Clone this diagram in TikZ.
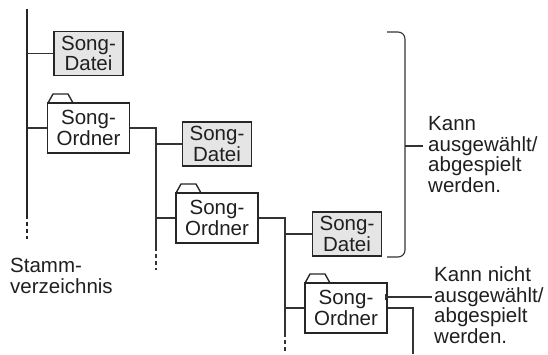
\documentclass[tikz,border=0pt]{standalone}
\usepackage{fontspec}
\setmainfont{Liberation Sans}
\begin{document}
\begin{tikzpicture}[x=1pt,y=-1pt,
  txt/.style={font=\fontsize{20.5}{20.5}\selectfont, text=black!88},
  filebox/.style={draw=black!85, line width=1.6pt, fill=black!10, minimum width=69pt, minimum height=44pt, inner sep=0pt, align=center, txt},
  folderbody/.style={draw=black!85, line width=1.4pt, fill=white, minimum width=82pt, minimum height=50pt, inner sep=0pt, align=center, txt},
  foldertab/.style={draw=black!85, line width=1.4pt, fill=white, line join=round},
  conn/.style={draw=black!80, line width=1.1pt},
  trunk/.style={draw=black!85, line width=2.4pt},
  dots/.style={dash pattern=on 4pt off 3pt},
  lbl/.style={txt, anchor=base west, align=left, inner sep=0pt}
]
\useasboundingbox (0,0) rectangle (548,354);

% trunk (root directory)
\coordinate (t0) at (27,9);
\coordinate (t1) at (27,215);
\coordinate (t2) at (27,239);
\draw[trunk] (t0) -- (t1);
\draw[trunk,dots] (t1) -- (t2);

% level 0
\node[filebox] (file1) at (88.5,53.5) {Song-\\Datei};
\draw[foldertab] (48,103) -- (53,94) -- (68,94) -- (73,103);
\node[folderbody] (f1) at (88.5,128) {Song-\\Ordner};
\draw[conn] (t0 |- file1.west) -- (file1.west);
\draw[conn] (t0 |- f1.west) -- (f1.west);

% level 1
\coordinate (v1top) at (156,128);
\coordinate (v1s) at (156,247);
\coordinate (v1e) at (156,270);
\node[filebox] (file2) at (217,144) {Song-\\Datei};
\draw[foldertab] (176,193) -- (181,184) -- (196,184) -- (201,193);
\node[folderbody] (f2) at (217,218) {Song-\\Ordner};
\draw[conn] (f1.east) -- (v1top) -- (v1s);
\draw[conn,dots] (v1s) -- (v1e);
\draw[conn] (v1top |- file2.west) -- (file2.west);
\draw[conn] (v1top |- f2.west) -- (f2.west);

% level 2
\coordinate (v2top) at (285,218);
\coordinate (v2s) at (285,333);
\coordinate (v2e) at (285,352);
\node[filebox] (file3) at (347,234) {Song-\\Datei};
\draw[foldertab] (305,283) -- (310,274) -- (325,274) -- (330,283);
\node[folderbody] (f3) at (346,308) {Song-\\Ordner};
\draw[conn] (f2.east) -- (v2top) -- (v2s);
\draw[conn,dots] (v2s) -- (v2e);
\draw[conn] (v2top |- file3.west) -- (file3.west);
\draw[conn] (v2top |- f3.west) -- (f3.west);

% level 3
\coordinate (v3top) at (413,308);
\coordinate (v3e) at (413,354);
\draw[conn] (f3.east) -- (v3top) -- (v3e);

% bracket
\coordinate (b1) at (387,32);
\coordinate (b2) at (405,32);
\coordinate (b3) at (405,257);
\coordinate (b4) at (387,257);
\coordinate (bm) at (405,146);
\coordinate (bt) at (423,146);
\draw[conn, rounded corners=7pt] (b1) -- (b2) -- (b3) -- (b4);
\draw[conn] (bm) -- (bt);

% labels (anchored at baseline of last line)
\node[lbl] (lab1) at (428,192) {Kann\\ausgewählt/\\abgespielt\\werden.};
\node[lbl] (lab2) at (434,343) {Kann nicht\\ausgewählt/\\abgespielt\\werden.};
\node[lbl] (root) at (10,293) {Stamm-\\verzeichnis};

% pointer to folder that cannot be selected
\coordinate (p1) at (385,297);
\coordinate (p2) at (432,297);
\coordinate (pa) at (385,294);
\coordinate (pb) at (385,300);
\draw[conn] (p1) -- (p2);
\draw[conn, line width=0.8pt] (pa) -- (pb);
\end{tikzpicture}
\end{document}
